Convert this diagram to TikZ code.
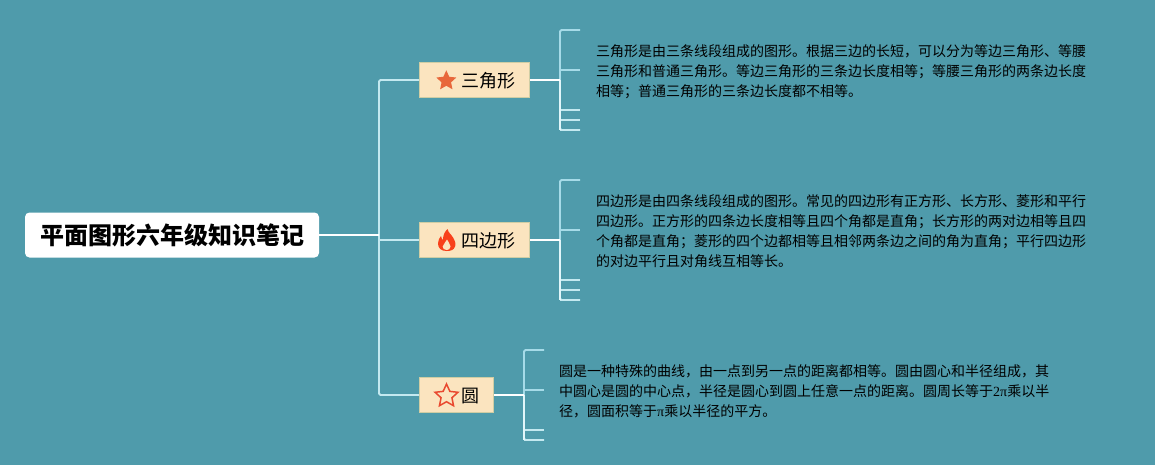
\documentclass[tikz,border=0pt]{standalone}
\usepackage{fontspec}
\setmainfont{Noto Sans CJK SC}
\newfontfamily\latinserif{Liberation Serif}
\usetikzlibrary{shapes.geometric}
\definecolor{bgc}{HTML}{4F9BAB}
\definecolor{linec}{HTML}{A6DBE8}
\definecolor{linem}{HTML}{C4E9F0}
\definecolor{linelt}{HTML}{E2F6FA}
\definecolor{nodec}{HTML}{FBE4BF}
\definecolor{nodeb}{HTML}{CFCDA4}
\definecolor{staro}{HTML}{E8673A}
\definecolor{flame}{HTML}{F8401A}
\definecolor{staro2}{HTML}{E9492F}
\definecolor{txt}{HTML}{000000}
\tikzset{
  rootbox/.style={fill=white,rounded corners=4.5pt,inner sep=0pt,text=black,font=\fontsize{24}{28}\selectfont\bfseries},
  topicbox/.style={fill=nodec,draw=nodeb,line width=.8pt,inner sep=0pt},
  topictext/.style={inner sep=0pt,text=txt,font=\fontsize{18}{22}\selectfont},
  notetext/.style={inner sep=0pt,anchor=west,align=left,text=txt,font=\fontsize{14}{20}\selectfont},
  thin link/.style={draw=linec,line width=1.6pt},
  mid link/.style={draw=linem,line width=1.6pt},
  lt link/.style={draw=linelt,line width=1.6pt},
  bright link/.style={draw=white,line width=2pt},
  bracket/.style={draw=linec,line width=1.8pt,rounded corners=1.5pt},
  trunk/.style={draw=linem,line width=1.8pt,rounded corners=1.5pt},
  iconstar/.style={star,star points=5,star point ratio=2.1,inner sep=0pt,rotate=0},
}
\begin{document}
\begin{tikzpicture}[x=1pt,y=-1pt]
\useasboundingbox (0,0) rectangle (1155,465);
\fill[bgc] (0,0) rectangle (1155,465);
% nodes
\node[rootbox,minimum width=294pt,minimum height=45pt] (root) at (172,235) {平面图形六年级知识笔记};
\node[topicbox,minimum width=110pt,minimum height=35pt] (t1) at (474.5,80) {};
\node[topicbox,minimum width=110pt,minimum height=35pt] (t2) at (474.5,240) {};
\node[topicbox,minimum width=74pt,minimum height=35pt] (t3) at (456.5,395) {};
\node[topictext] (t1l) at (488,81) {三角形};
\node[topictext] (t2l) at (488,241) {四边形};
\node[topictext] (t3l) at (470,396) {圆};
\node[iconstar,fill=staro,minimum size=21pt] (i1) at (446.3,80.8) {};
\node[iconstar,draw=staro2,fill=nodec,line width=1.5pt,minimum size=24pt] (i3) at (446.5,396) {};
% flame icon
\fill[flame] (447.5,229)
  .. controls (448.5,233) and (451,234) .. (453,237.5) .. controls (455.5,241.5) and (456,245) .. (455,246.5)
  .. controls (454,250) and (451,251) .. (446.5,251)
  .. controls (441,251) and (438,248) .. (438,243.5)
  .. controls (438,240) and (439.5,238) .. (441,236)
  .. controls (441.3,238) and (442,239) .. (443,240)
  .. controls (443,235) and (444.5,232) .. (447.5,229) -- cycle;
\fill[nodec] (447,239.5) .. controls (447.5,242) and (450.5,243) .. (450.5,246.5) .. controls (450.5,249) and (448.5,250) .. (446.7,250)
  .. controls (444,250) and (442.7,248.5) .. (442.7,246.5) .. controls (442.7,244) and (446,243) .. (447,239.5) -- cycle;
% notes
\node[notetext] (n1) at (596,71.5) {三角形是由三条线段组成的图形。根据三边的长短，可以分为等边三角形、等腰\\三角形和普通三角形。等边三角形的三条边长度相等；等腰三角形的两条边长度\\相等；普通三角形的三条边长度都不相等。};
\node[notetext] (n2) at (596,231.5) {四边形是由四条线段组成的图形。常见的四边形有正方形、长方形、菱形和平行\\四边形。正方形的四条边长度相等且四个角都是直角；长方形的两对边相等且四\\个角都是直角；菱形的四个边都相等且相邻两条边之间的角为直角；平行四边形\\的对边平行且对角线互相等长。};
\node[notetext] (n3) at (559,391) {圆是一种特殊的曲线，由一点到另一点的距离都相等。圆由圆心和半径组成，其\\中圆心是圆的中心点，半径是圆心到圆上任意一点的距离。圆周长等于{\latinserif 2π}乘以半\\径，圆面积等于{\latinserif π}乘以半径的平方。};
% junction coordinates
\coordinate (trA) at (379,80);
\coordinate (trM) at (379,235);
\coordinate (trN) at (379,240);
\coordinate (trB) at (379,395);
\coordinate (a0) at (560,80);
\coordinate (b0) at (560,240);
\coordinate (c0) at (524,395);
\foreach \n/\x/\y in {a1/580/30,a2/580/70,a3/580/110,a4/580/120,a5/580/130,
                      b1/580/180,b2/580/230,b3/580/280,b4/580/290,b5/580/300,
                      c1/544/350,c2/544/390,c3/544/430,c4/544/440}
  \coordinate (\n) at (\x,\y);
% trunk
\draw[trunk] (t1.west) -- (trA) -- (trB) -- (t3.west);
\draw[mid link] (trN) -- (t2.west);
\draw[bright link] (root.east) -- (trM);
% brackets
\draw[bracket] (a1) -- (a1 -| a0) -- (a5 -| a0) -- (a5);
\draw[thin link] (a2 -| a0) -- (a2);
\draw[mid link] (a3 -| a0) -- (a3);
\draw[mid link] (a4 -| a0) -- (a4);
\draw[mid link] (a5 -| a0) -- (a5);
\draw[lt link] (a0) -- (a5 -| a0);
\draw[bracket] (b1) -- (b1 -| b0) -- (b5 -| b0) -- (b5);
\draw[thin link] (b2 -| b0) -- (b2);
\draw[mid link] (b3 -| b0) -- (b3);
\draw[mid link] (b4 -| b0) -- (b4);
\draw[mid link] (b5 -| b0) -- (b5);
\draw[lt link] (b0) -- (b5 -| b0);
\draw[bracket] (c1) -- (c1 -| c0) -- (c4 -| c0) -- (c4);
\draw[thin link] (c2 -| c0) -- (c2);
\draw[mid link] (c3 -| c0) -- (c3);
\draw[mid link] (c4 -| c0) -- (c4);
\draw[lt link] (c0) -- (c4 -| c0);
% bright stems
\draw[bright link] (t1.east) -- (a0);
\draw[bright link] (t2.east) -- (b0);
\draw[bright link] (t3.east) -- (c0);
\end{tikzpicture}
\end{document}
